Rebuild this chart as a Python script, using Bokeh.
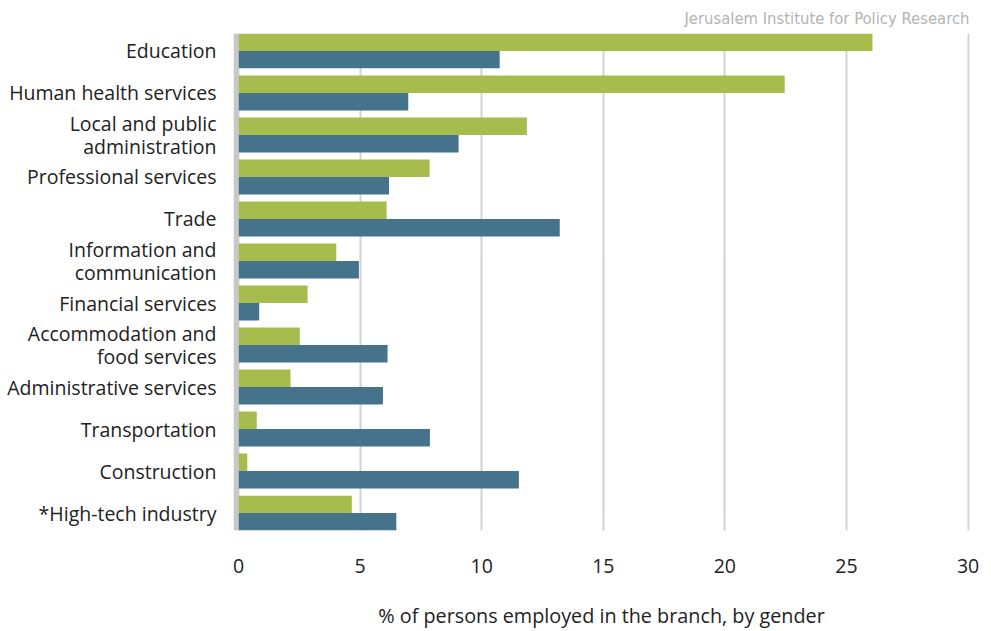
from bokeh.plotting import figure
from bokeh.models import Range1d, FixedTicker, BoxAnnotation, Title, ColumnDataSource
from bokeh.embed import file_html
from bokeh.resources import INLINE

categories = [
    "Education",
    "Human health services",
    "Local and public\nadministration",
    "Professional services",
    "Trade",
    "Information and\ncommunication",
    "Financial services",
    "Accommodation and\nfood services",
    "Administrative services",
    "Transportation",
    "Construction",
    "*High-tech industry",
]
women = [26.07, 22.46, 11.86, 7.86, 6.09, 4.02, 2.84, 2.52, 2.14, 0.75, 0.36, 4.66]
men = [10.74, 6.98, 9.05, 6.19, 13.21, 4.95, 0.85, 6.13, 5.94, 7.87, 11.53, 6.49]
x_ticks = [0, 5, 10, 15, 20, 25, 30]

GREEN = "#a6bc4d"
BLUE = "#45738c"
BAR_H = 0.415

pos = list(range(len(categories)))
src = ColumnDataSource(dict(
    pos=pos,
    gy=[p - BAR_H / 2 for p in pos],
    by=[p + BAR_H / 2 for p in pos],
    women=women,
    men=men,
))

p = figure(width=991, height=631, output_backend="svg", toolbar_location=None,
           x_range=Range1d(-0.206, 30.06),
           y_range=Range1d(len(categories) - 1 + BAR_H, -BAR_H),
           min_border_left=233, min_border_right=22, min_border_top=33, min_border_bottom=20)

p.hbar(y="gy", right="women", left=0, height=BAR_H, source=src, fill_color=GREEN, line_color=None)
p.hbar(y="by", right="men", left=0, height=BAR_H, source=src, fill_color=BLUE, line_color=None)

p.add_layout(BoxAnnotation(left=-0.206, right=0, fill_color="#c8c8c8", fill_alpha=1, line_color=None, level="overlay"))

p.outline_line_color = None
p.background_fill_color = "white"
p.border_fill_color = "white"

# x axis
p.xaxis.ticker = FixedTicker(ticks=x_ticks)
p.xaxis.axis_line_color = None
p.xaxis.major_tick_line_color = None
p.xaxis.major_tick_out = 0
p.xaxis.major_tick_in = 0
p.xaxis.minor_tick_line_color = None
p.xaxis.major_label_text_font = "Open Sans"
p.xaxis.major_label_text_font_size = "19.5px"
p.xaxis.major_label_text_color = "#222222"
p.xaxis.major_label_standoff = 28
p.xaxis.axis_label = "% of persons employed in the branch, by gender"
p.xaxis.axis_label_text_font = "Open Sans"
p.xaxis.axis_label_text_font_size = "19.8px"
p.xaxis.axis_label_text_font_style = "normal"
p.xaxis.axis_label_text_color = "#222222"
p.xaxis.axis_label_standoff = 26

# y axis
p.yaxis.ticker = FixedTicker(ticks=pos)
p.yaxis.major_label_overrides = {i: c for i, c in enumerate(categories)}
p.yaxis.axis_line_color = None
p.yaxis.major_tick_line_color = None
p.yaxis.major_tick_out = 0
p.yaxis.major_tick_in = 0
p.yaxis.minor_tick_line_color = None
p.yaxis.major_label_text_font = "Open Sans"
p.yaxis.major_label_text_font_size = "19.5px"
p.yaxis.major_label_text_line_height = 0.85
p.yaxis.major_label_text_color = "#222222"
p.yaxis.major_label_standoff = 17

p.xgrid.ticker = FixedTicker(ticks=x_ticks)
p.xgrid.grid_line_color = "#d2d2d2"
p.xgrid.grid_line_width = 2
p.ygrid.grid_line_color = None

t = Title(text="Jerusalem Institute for Policy Research", align="right",
          text_font="'DejaVu Sans Condensed', 'Liberation Sans Narrow', Roboto, sans-serif",
          text_font_size="16.5px",
          text_font_style="normal", text_color="#b4b4b4", offset=0, standoff=12)
p.add_layout(t, "above")

open("out.html", "w").write(file_html(p, INLINE))
